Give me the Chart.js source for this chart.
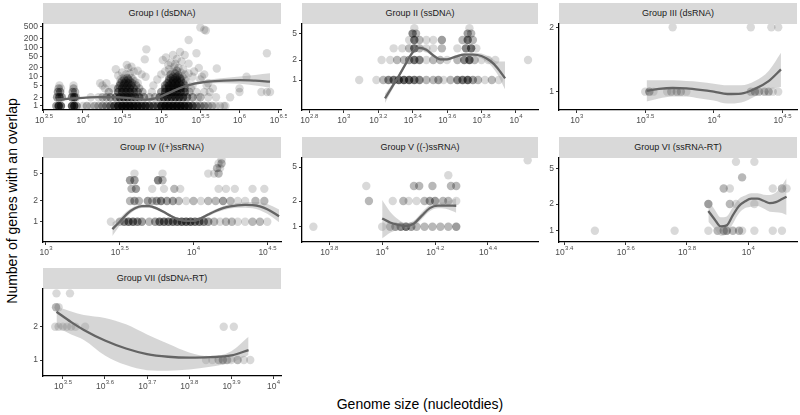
<!DOCTYPE html>
<html lang="en">
<head>
<meta charset="UTF-8">
<title>Genes with an overlap by genome size</title>
<script src="https://cdn.jsdelivr.net/npm/chart.js@4.4.1/dist/chart.umd.min.js"></script>
<style>
  html, body { margin: 0; padding: 0; background: #fff; }
  body { position: relative; width: 800px; height: 415px; overflow: hidden;
         font-family: "Liberation Sans", Arial, sans-serif; }
  canvas { position: absolute; }
  .strip { position: absolute; height: 21px; line-height: 21px; background: #d9d9d9;
           color: #1a1a1a; font-size: 9px; text-align: center; white-space: nowrap; }
  .ytitle { position: absolute; left: 12px; top: 201px; transform: translate(-50%, -50%) rotate(-90deg);
            white-space: nowrap; font-size: 14px; color: #000; }
  .xtitle { position: absolute; left: 420px; top: 404px; transform: translate(-50%, -50%);
            white-space: nowrap; font-size: 14px; color: #000; }
</style>
</head>
<body>
<div class="ytitle">Number of genes with an overlap</div>
<div class="xtitle">Genome size (nucleotdies)</div>
<script>
// points are [log10 genome size, genes with an overlap, genomes on that spot]
// fits are log10 genome size -> smoothed value, with lower / upper band

const groupTitles = ['Group I (dsDNA)', 'Group II (ssDNA)', 'Group III (dsRNA)',
    'Group IV ((+)ssRNA)', 'Group V ((-)ssRNA)', 'Group VI (ssRNA-RT)', 'Group VII (dsDNA-RT)'];

// ---- Group I
const g1XTicks = [3.5, 4, 4.5, 5, 5.5, 6, 6.5];
const g1YTicks = [1, 2, 5, 10, 20, 50, 100, 200, 500];
const g1Points = [
    [3.66,1,3],[3.69,1,8],[3.72,1,5],[3.86,1,6],[3.89,1,8],[3.92,1,3],
    [3.67,2,3],[3.70,2,6],[3.73,2,3],[3.86,2,4],[3.89,2,6],[3.91,2,2],
    [3.68,3,3],[3.71,3,3],[3.87,3,3],[3.90,3,2],
    [3.69,4,2],[3.72,4,1],[3.88,4,2],[3.70,5,1],[3.88,5,1],
    [4.00,1,1],[4.05,1,2],[4.10,1,1],[4.15,1,2],[4.20,1,2],[4.25,1,3],[4.30,1,3],[4.35,1,4],
    [4.10,2,1],[4.20,2,1],[4.25,2,2],[4.30,2,2],[4.35,2,3],
    [4.33,3,2],[4.28,4,1],[4.38,4,1],[4.25,5,1],[4.22,6,1],[4.30,6,1],
    [4.40,1,6],[4.45,1,10],[4.50,1,12],[4.55,1,12],[4.60,1,12],[4.65,1,10],[4.70,1,10],[4.75,1,8],[4.80,1,8],[4.85,1,6],[4.90,1,5],[4.95,1,5],
    [4.42,2,4],[4.47,2,6],[4.52,2,7],[4.57,2,7],[4.62,2,6],[4.67,2,5],[4.72,2,4],[4.78,2,3],[4.85,2,2],
    [4.45,3,4],[4.50,3,5],[4.55,3,5],[4.60,3,5],[4.65,3,4],[4.70,3,3],[4.76,3,2],
    [4.45,4,3],[4.50,4,4],[4.55,4,4],[4.60,4,4],[4.65,4,3],[4.72,4,2],
    [4.47,5,3],[4.52,5,3],[4.57,5,3],[4.62,5,3],[4.68,5,2],
    [4.48,6,2],[4.53,6,3],[4.58,6,3],[4.63,6,2],[4.70,6,1],
    [4.50,7,2],[4.55,7,2],[4.60,7,2],[4.66,7,1],
    [4.48,8,1],[4.53,8,2],[4.58,8,2],[4.64,8,1],
    [4.52,9,1],[4.57,9,2],[4.62,9,1],
    [4.45,11,1],[4.55,12,1],[4.60,13,1],[4.50,14,1],[4.65,15,1],[4.42,18,1],[4.58,20,1],[4.70,16,1],
    [4.56,25,1],[4.62,22,1],[4.75,12,1],[4.80,10,1],[4.79,39,1],[4.81,86,1],
    [4.88,3,1],[4.90,5,1],[4.92,2,2],[4.95,8,1],
    [5.00,1,10],[5.05,1,12],[5.10,1,12],[5.15,1,12],[5.20,1,12],[5.25,1,12],[5.30,1,10],[5.35,1,8],[5.40,1,6],[5.45,1,4],
    [4.98,2,4],[5.03,2,6],[5.08,2,7],[5.13,2,7],[5.18,2,7],[5.23,2,7],[5.28,2,6],[5.33,2,4],[5.40,2,3],[5.47,2,1],
    [5.00,3,3],[5.05,3,5],[5.10,3,6],[5.15,3,6],[5.20,3,6],[5.25,3,5],[5.30,3,4],[5.36,3,2],[5.45,3,1],
    [5.05,4,4],[5.10,4,5],[5.15,4,5],[5.20,4,5],[5.25,4,4],[5.30,4,3],[5.38,4,1],
    [5.05,5,3],[5.10,5,4],[5.15,5,4],[5.20,5,4],[5.25,5,3],[5.30,5,2],[5.40,5,1],
    [5.08,6,3],[5.13,6,3],[5.18,6,3],[5.23,6,3],[5.28,6,2],
    [5.10,7,2],[5.15,7,3],[5.20,7,3],[5.25,7,2],[5.32,7,1],
    [5.10,8,2],[5.15,8,2],[5.20,8,3],[5.25,8,2],[5.30,8,1],
    [5.12,9,2],[5.18,9,2],[5.24,9,2],
    [5.10,10,1],[5.15,10,2],[5.20,10,2],[5.27,10,1],
    [5.12,12,2],[5.18,13,2],[5.22,11,2],[5.15,15,1],[5.20,16,2],[5.25,14,1],[5.10,18,1],[5.30,12,1],
    [5.22,20,1],[5.17,22,1],[5.05,15,1],[5.00,12,1],[5.35,13,1],[5.40,10,1],[5.42,15,1],[5.28,18,1],
    [5.02,37,1],[5.09,25,1],[5.15,55,1],[5.24,70,1],[5.26,33,1],[5.30,55,1],[5.20,40,1],[5.12,30,1],
    [5.35,28,1],[5.06,45,1],[5.18,28,1],
    [5.35,180,1],[5.50,480,1],[5.55,400,1],[5.57,380,1],
    [5.50,1,3],[5.55,1,3],[5.60,1,2],[5.65,1,2],[5.70,1,1],[5.75,1,1],[5.80,1,1],
    [5.50,2,2],[5.60,2,1],[5.70,2,1],[5.55,3,1],[5.62,3,1],
    [5.66,4,1],[5.58,5,1],[5.71,19,1],[5.45,63,1],[5.50,8,1],[5.55,12,1],[5.60,6,1],[5.48,20,1],[5.52,10,1],
    [5.82,1,1],[5.88,2,1],[6.00,3,1],[6.00,4,1],[6.09,10,1],[6.28,3,1],[6.35,3,1],[6.39,3,1],[6.35,63,1]
];
const g1FitX  = [3.66, 3.8, 4.0, 4.2, 4.4, 4.6, 4.8, 4.95, 5.1, 5.25, 5.4, 5.6, 5.8, 6.0, 6.2, 6.39];
const g1Fit   = [1.6, 1.75, 1.9, 2.0, 2.0, 1.85, 1.65, 1.9, 2.8, 4.2, 5.6, 6.8, 7.4, 7.6, 7.3, 6.8];
const g1FitLo = [1.4, 1.6, 1.8, 1.9, 1.9, 1.78, 1.58, 1.8, 2.6, 3.9, 5.1, 5.9, 6.0, 5.7, 5.0, 4.2];
const g1FitHi = [1.85, 1.9, 2.0, 2.1, 2.1, 1.93, 1.73, 2.0, 3.0, 4.5, 6.1, 7.8, 9.0, 10.2, 11.5, 13];

// ---- Group II
const g2XTicks = [2.8, 3, 3.2, 3.4, 3.6, 3.8, 4];
const g2YTicks = [1, 2, 5];
const g2Points = [
    [3.09,1,1],[3.19,1,1],[3.23,1,2],[3.26,1,4],[3.29,1,5],[3.32,1,6],[3.35,1,6],[3.38,1,6],[3.41,1,5],[3.44,1,4],
    [3.48,1,2],[3.52,1,2],[3.55,1,3],[3.58,1,1],[3.62,1,2],[3.66,1,4],[3.69,1,5],[3.72,1,6],[3.75,1,3],[3.78,1,2],
    [3.82,1,1],[3.86,1,2],[3.90,1,1],
    [3.22,2,1],[3.27,2,1],[3.31,2,2],[3.35,2,2],[3.38,2,3],[3.41,2,5],[3.44,2,4],[3.48,2,1],[3.52,2,2],[3.56,2,2],
    [3.60,2,1],[3.66,2,2],[3.70,2,4],[3.73,2,6],[3.76,2,2],[3.80,2,1],[3.84,2,1],[3.88,2,1],[4.07,2,1],
    [3.29,3,1],[3.34,3,1],[3.38,3,2],[3.41,3,5],[3.44,3,2],[3.48,3,1],[3.52,3,1],[3.57,3,2],[3.66,3,1],[3.71,3,4],[3.74,3,5],[3.77,3,1],
    [3.38,4,1],[3.41,4,5],[3.44,4,2],[3.48,4,1],[3.52,4,1],[3.57,4,3],[3.69,4,2],[3.72,4,5],[3.75,4,2],
    [3.40,5,4],[3.42,5,2],[3.72,5,3],[3.74,5,2],
    [3.41,6,1],[3.73,6,1]
];
const g2FitX  = [3.24, 3.28, 3.32, 3.36, 3.40, 3.44, 3.48, 3.52, 3.56, 3.60, 3.65, 3.70, 3.75, 3.80, 3.85, 3.89, 3.937];
const g2Fit   = [0.53, 0.78, 1.15, 1.75, 2.6, 3.05, 2.85, 2.35, 2.05, 2.05, 2.25, 2.42, 2.42, 2.3, 1.95, 1.55, 1.06];
const g2FitLo = [0.45, 0.7, 1.07, 1.65, 2.45, 2.85, 2.65, 2.2, 1.95, 1.95, 2.15, 2.3, 2.28, 2.1, 1.7, 1.25, 0.72];
const g2FitHi = [0.62, 0.86, 1.24, 1.85, 2.75, 3.25, 3.05, 2.5, 2.15, 2.15, 2.35, 2.55, 2.58, 2.5, 2.2, 1.9, 1.9];

// ---- Group III
const g3XTicks = [3, 3.5, 4, 4.5];
const g3YTicks = [1, 2];
const g3Points = [
    [3.50,1,1],[3.53,1,3],[3.56,1,1],[3.66,1,1],[3.69,1,2],[3.73,1,2],[3.76,1,2],[3.80,1,1],
    [4.27,1,2],[4.30,1,3],[4.33,1,2],[4.37,1,2],[4.40,1,2],[4.43,1,1],[4.47,1,1],
    [3.70,2,1],[4.27,2,1],[4.42,2,1],[4.47,2,1]
];
const g3FitX  = [3.51, 3.6, 3.7, 3.8, 3.9, 4.0, 4.1, 4.2, 4.3, 4.4, 4.49];
const g3Fit   = [1.01, 1.03, 1.04, 1.035, 1.02, 1.0, 0.975, 0.98, 1.03, 1.12, 1.27];
const g3FitLo = [0.9, 0.93, 0.95, 0.95, 0.93, 0.91, 0.88, 0.89, 0.95, 1.02, 1.05];
const g3FitHi = [1.13, 1.13, 1.13, 1.12, 1.11, 1.09, 1.07, 1.07, 1.12, 1.25, 1.52];

// ---- Group IV
const g4XTicks = [3, 3.5, 4, 4.5];
const g4YTicks = [1, 2, 5];
const g4Points = [
    [3.44,1,1],[3.50,1,2],[3.53,1,4],[3.56,1,5],[3.59,1,5],[3.62,1,4],[3.65,1,3],[3.70,1,2],[3.74,1,3],[3.77,1,5],
    [3.80,1,5],[3.83,1,5],[3.86,1,5],[3.89,1,5],[3.92,1,6],[3.95,1,6],[3.98,1,6],[4.01,1,5],[4.04,1,5],[4.07,1,4],
    [4.10,1,3],[4.14,1,2],[4.18,1,1],[4.22,1,2],[4.26,1,2],[4.30,1,1],[4.35,1,1],[4.40,1,2],[4.45,1,2],[4.50,1,1],
    [3.57,2,2],[3.60,2,3],[3.63,2,2],[3.69,2,3],[3.72,2,2],[3.75,2,3],[3.78,2,4],[3.82,2,3],[3.86,2,3],[3.90,2,2],
    [3.95,2,1],[4.00,2,2],[4.05,2,1],[4.10,2,2],[4.15,2,2],[4.20,2,3],[4.25,2,2],[4.30,2,1],[4.35,2,1],[4.42,2,2],[4.48,2,2],
    [3.58,3,2],[3.61,3,3],[3.72,3,1],[3.80,3,1],[3.87,3,2],[3.91,3,1],[4.17,3,1],[4.22,3,1],[4.28,3,1],[4.40,3,1],[4.48,3,1],
    [3.57,4,3],[3.60,4,3],[3.76,4,4],[3.79,4,2],
    [3.60,5,1],[3.79,5,1],[4.10,5,1],[4.14,5,1],[4.17,5,2],
    [4.16,6,2],[4.18,6,1],[4.17,7,1],[4.19,7,2],[4.19,8,1]
];
const g4FitX  = [3.45, 3.5, 3.55, 3.6, 3.65, 3.7, 3.75, 3.8, 3.85, 3.9, 3.95, 4.0, 4.05, 4.1, 4.15, 4.2, 4.25, 4.3, 4.35, 4.4, 4.45, 4.5, 4.58];
const g4Fit   = [0.78, 1.0, 1.3, 1.55, 1.68, 1.68, 1.56, 1.38, 1.2, 1.08, 1.03, 1.03, 1.12, 1.27, 1.43, 1.57, 1.67, 1.73, 1.75, 1.74, 1.67, 1.52, 1.2];
const g4FitLo = [0.62, 0.88, 1.18, 1.45, 1.58, 1.6, 1.49, 1.32, 1.15, 1.04, 0.99, 0.99, 1.07, 1.2, 1.35, 1.47, 1.55, 1.6, 1.6, 1.57, 1.47, 1.3, 0.98];
const g4FitHi = [0.97, 1.13, 1.43, 1.66, 1.78, 1.77, 1.63, 1.44, 1.25, 1.12, 1.07, 1.07, 1.17, 1.34, 1.51, 1.67, 1.8, 1.87, 1.92, 1.94, 1.92, 1.8, 1.5];

// ---- Group V
const g5XTicks = [3.8, 4, 4.2, 4.4];
const g5YTicks = [1, 2, 5];
const g5Points = [
    [3.74,1,1],[4.00,1,1],[4.03,1,2],[4.05,1,3],[4.07,1,4],[4.09,1,5],[4.11,1,3],[4.13,1,2],[4.16,1,2],[4.19,1,2],[4.22,1,2],[4.25,1,2],[4.28,1,3],
    [3.95,2,2],[4.04,2,1],[4.08,2,2],[4.10,2,1],[4.13,2,1],[4.16,2,2],[4.18,2,3],[4.20,2,3],[4.23,2,2],[4.25,2,2],[4.28,2,1],
    [3.94,3,1],[4.12,3,2],[4.14,3,2],[4.19,3,2],[4.26,3,2],[4.28,3,2],
    [4.25,4,1],[4.55,6,1]
];
const g5FitX  = [4.0, 4.03, 4.06, 4.09, 4.12, 4.15, 4.18, 4.21, 4.24, 4.28];
const g5Fit   = [1.25, 1.12, 1.05, 1.02, 1.09, 1.35, 1.65, 1.77, 1.77, 1.76];
const g5FitLo = [0.73, 0.85, 0.92, 0.95, 1.0, 1.23, 1.52, 1.64, 1.62, 1.46];
const g5FitHi = [2.05, 1.5, 1.22, 1.1, 1.18, 1.48, 1.78, 1.9, 1.95, 2.15];

// ---- Group VI
const g6XTicks = [3.4, 3.6, 3.8, 4];
const g6YTicks = [1, 2, 5];
const g6Points = [
    [3.50,1,1],[3.76,1,1],[3.87,1,1],[3.90,1,2],[3.92,1,3],[3.93,1,3],[3.95,1,2],[3.97,1,2],[3.98,1,1],[4.02,1,1],[4.08,1,1],[4.11,1,1],
    [3.87,2,3],[3.94,2,2],[3.96,2,1],[4.02,2,1],
    [3.92,3,2],[3.94,3,1],[4.08,3,1],[4.11,3,2],[4.125,3,1],
    [3.98,4,2],[3.96,6,1],[4.02,6,1]
];
const g6FitX  = [3.87, 3.89, 3.91, 3.93, 3.95, 3.97, 3.99, 4.01, 4.03, 4.05, 4.07, 4.09, 4.11, 4.125];
const g6Fit   = [1.67, 1.35, 1.12, 1.15, 1.5, 1.9, 2.15, 2.3, 2.3, 2.18, 2.05, 2.1, 2.28, 2.42];
const g6FitLo = [1.26, 1.05, 0.88, 0.92, 1.2, 1.57, 1.8, 1.87, 1.9, 1.78, 1.64, 1.62, 1.58, 1.5];
const g6FitHi = [2.22, 1.75, 1.42, 1.45, 1.85, 2.3, 2.5, 2.64, 2.64, 2.55, 2.53, 2.7, 3.25, 3.9];

// ---- Group VII
const g7XTicks = [3.5, 3.6, 3.7, 3.8, 3.9, 4];
const g7YTicks = [1, 2];
const g7Points = [
    [3.84,1,1],[3.855,1,1],[3.87,1,2],[3.88,1,3],[3.89,1,2],[3.90,1,1],[3.915,1,2],[3.93,1,1],[3.945,1,1],
    [3.482,2,1],[3.49,2,1],[3.50,2,1],[3.51,2,1],[3.52,2,1],[3.53,2,1],[3.553,2,1],[3.882,2,1],[3.906,2,1],
    [3.484,3,2],[3.49,3,1],[3.485,4,1],[3.517,4,1]
];
const g7FitX  = [3.485, 3.52, 3.55, 3.6, 3.65, 3.7, 3.75, 3.8, 3.85, 3.9, 3.941];
const g7Fit   = [2.73, 2.2, 1.87, 1.5, 1.27, 1.13, 1.07, 1.05, 1.06, 1.1, 1.23];
const g7FitLo = [2.0, 1.7, 1.52, 1.1, 0.9, 0.81, 0.8, 0.82, 0.87, 0.95, 1.11];
const g7FitHi = [3.03, 2.75, 2.55, 2.4, 2.1, 1.7, 1.4, 1.17, 1.08, 1.2, 1.62];

// panel boxes: [left, right] per column, [stripTop, plotTop, plotBottom] per row
const cols = [[43, 281], [302, 538], [559, 797]];
const rows = [[3, 24, 110], [137, 158, 242], [268, 289, 376]];

const panels = [
    { title: groupTitles[0], col: 0, row: 0, xr: [3.49, 6.53],  yr: [0.73, 630],   xt: g1XTicks, yt: g1YTicks, pts: g1Points, fx: g1FitX, f: g1Fit, lo: g1FitLo, hi: g1FitHi },
    { title: groupTitles[1], col: 1, row: 0, xr: [2.758, 4.128], yr: [0.354, 6.97], xt: g2XTicks, yt: g2YTicks, pts: g2Points, fx: g2FitX, f: g2Fit, lo: g2FitLo, hi: g2FitHi },
    { title: groupTitles[2], col: 2, row: 0, xr: [2.871, 4.607], yr: [0.821, 2.07], xt: g3XTicks, yt: g3YTicks, pts: g3Points, fx: g3FitX, f: g3Fit, lo: g3FitLo, hi: g3FitHi },
    { title: groupTitles[3], col: 0, row: 1, xr: [2.98, 4.593],  yr: [0.507, 8.42], xt: g4XTicks, yt: g4YTicks, pts: g4Points, fx: g4FitX, f: g4Fit, lo: g4FitLo, hi: g4FitHi },
    { title: groupTitles[4], col: 1, row: 1, xr: [3.697, 4.589], yr: [0.662, 6.38], xt: g5XTicks, yt: g5YTicks, pts: g5Points, fx: g5FitX, f: g5Fit, lo: g5FitLo, hi: g5FitHi },
    { title: groupTitles[5], col: 2, row: 1, xr: [3.383, 4.159], yr: [0.746, 6.62], xt: g6XTicks, yt: g6YTicks, pts: g6Points, fx: g6FitX, f: g6Fit, lo: g6FitLo, hi: g6FitHi },
    { title: groupTitles[6], col: 0, row: 2, xr: [3.453, 4.018], yr: [0.717, 4.38], xt: g7XTicks, yt: g7YTicks, pts: g7Points, fx: g7FitX, f: g7Fit, lo: g7FitLo, hi: g7FitHi }
];

const FONT = '"Liberation Sans", Arial, sans-serif';
const PAD_LEFT = 40, PAD_TOP = 8, PAD_RIGHT = 6, PAD_BOTTOM = 22;

// x tick labels drawn as 10 with a raised exponent
const expTicks = {
    id: 'expTicks',
    afterDraw(chart, args, opts) {
        const ctx = chart.ctx;
        const sx = chart.scales.x;
        const yBase = chart.chartArea.bottom + 12.5;
        ctx.save();
        ctx.fillStyle = '#4d4d4d';
        ctx.textBaseline = 'alphabetic';
        ctx.textAlign = 'left';
        opts.exps.forEach(e => {
            const x = sx.getPixelForValue(Math.pow(10, e));
            const ex = String(e);
            ctx.font = '8.5px ' + FONT;
            const w1 = ctx.measureText('10').width;
            ctx.font = '6px ' + FONT;
            const w2 = ctx.measureText(ex).width;
            const x0 = x - (w1 + w2) / 2;
            ctx.font = '8.5px ' + FONT;
            ctx.fillText('10', x0, yBase);
            ctx.font = '6px ' + FONT;
            ctx.fillText(ex, x0 + w1 + 0.3, yBase - 4.2);
        });
        ctx.restore();
    }
};

function alphaFor(n) {
    const a = 1 - Math.pow(1 - 0.15, n);
    return 'rgba(0,0,0,' + a.toFixed(3) + ')';
}

function line(xs, ys) {
    return xs.map((lx, i) => ({ x: Math.pow(10, lx), y: ys[i] }));
}

panels.forEach(p => {
    const [L, R] = cols[p.col];
    const [S, T, B] = rows[p.row];

    const strip = document.createElement('div');
    strip.className = 'strip';
    strip.style.left = L + 'px';
    strip.style.top = S + 'px';
    strip.style.width = (R - L) + 'px';
    strip.textContent = p.title;
    document.body.appendChild(strip);

    const canvas = document.createElement('canvas');
    const w = PAD_LEFT + (R - L) + PAD_RIGHT;
    const h = PAD_TOP + (B - T) + PAD_BOTTOM;
    canvas.width = w; canvas.height = h;
    canvas.style.width = w + 'px'; canvas.style.height = h + 'px';
    canvas.style.left = (L - PAD_LEFT) + 'px';
    canvas.style.top = (T - PAD_TOP) + 'px';
    document.body.appendChild(canvas);

    const axisGrid = { display: true, drawOnChartArea: false, drawTicks: true, tickLength: 3, color: '#333', lineWidth: 1 };
    const axisBorder = { display: true, color: '#000', width: 1.3 };

    new Chart(canvas.getContext('2d'), {
        type: 'scatter',
        data: {
            datasets: [
                { type: 'line', data: line(p.fx, p.f), borderColor: '#646464', borderWidth: 2.3,
                  pointRadius: 0, fill: false, cubicInterpolationMode: 'monotone', order: 0 },
                { type: 'line', data: line(p.fx, p.hi), borderWidth: 0, borderColor: 'rgba(0,0,0,0)',
                  pointRadius: 0, fill: '+1', backgroundColor: 'rgba(153,153,153,0.4)', cubicInterpolationMode: 'monotone', order: 1 },
                { type: 'line', data: line(p.fx, p.lo), borderWidth: 0, borderColor: 'rgba(0,0,0,0)',
                  pointRadius: 0, fill: false, cubicInterpolationMode: 'monotone', order: 2 },
                { data: p.pts.map(d => ({ x: Math.pow(10, d[0]), y: d[1] })),
                  pointRadius: 4.2, pointBorderWidth: 0,
                  pointBackgroundColor: p.pts.map(d => alphaFor(d[2])), order: 3 }
            ]
        },
        options: {
            responsive: false,
            animation: false,
            events: [],
            layout: { padding: { left: 0, top: PAD_TOP, right: PAD_RIGHT, bottom: 0 } },
            plugins: { legend: { display: false }, tooltip: { enabled: false }, expTicks: { exps: p.xt } },
            scales: {
                x: {
                    type: 'logarithmic', bounds: 'data',
                    min: Math.pow(10, p.xr[0]), max: Math.pow(10, p.xr[1]),
                    afterBuildTicks: s => { s.ticks = p.xt.map(e => ({ value: Math.pow(10, e) })); },
                    afterFit: s => { s.height = PAD_BOTTOM; },
                    ticks: { display: false },
                    grid: axisGrid, border: axisBorder
                },
                y: {
                    type: 'logarithmic', bounds: 'data',
                    min: p.yr[0], max: p.yr[1],
                    afterBuildTicks: s => { s.ticks = p.yt.map(v => ({ value: v })); },
                    afterFit: s => { s.width = PAD_LEFT; },
                    ticks: { display: true, autoSkip: false, color: '#4d4d4d', padding: 2,
                             font: { size: 8.5, family: FONT }, callback: v => String(v) },
                    grid: axisGrid, border: axisBorder
                }
            }
        },
        plugins: [expTicks]
    });
});
</script>
</body>
</html>
